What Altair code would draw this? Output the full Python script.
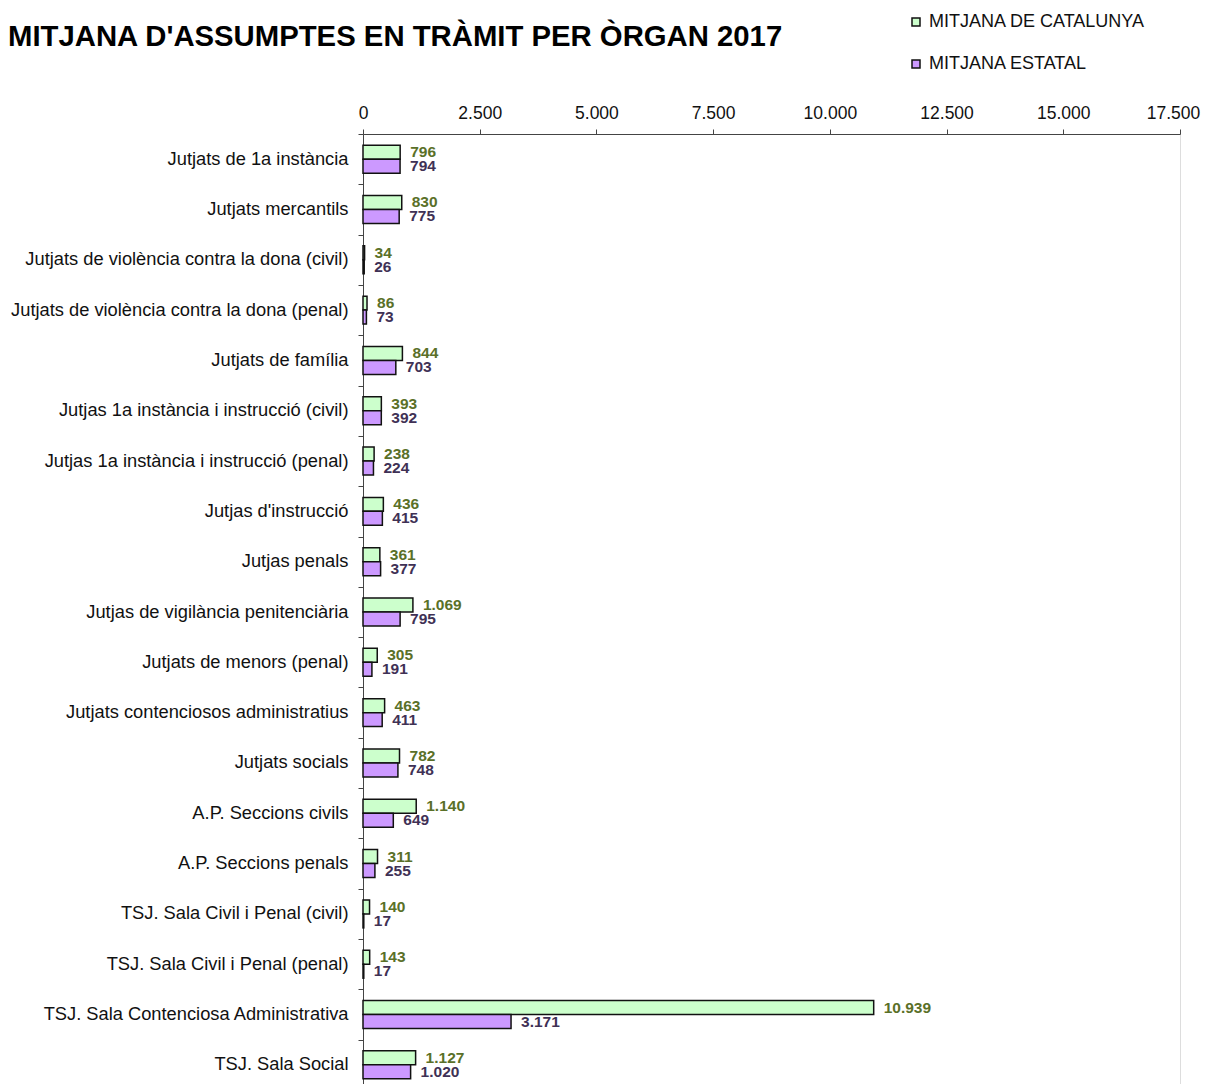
import altair as alt
import pandas as pd

categories = [
    "Jutjats de 1a instància",
    "Jutjats mercantils",
    "Jutjats de violència contra la dona (civil)",
    "Jutjats de violència contra la dona (penal)",
    "Jutjats de família",
    "Jutjas 1a instància  i instrucció  (civil)",
    "Jutjas 1a instància  i instrucció  (penal)",
    "Jutjas d'instrucció",
    "Jutjas penals",
    "Jutjas de vigilància penitenciària",
    "Jutjats de menors (penal)",
    "Jutjats contenciosos administratius",
    "Jutjats socials",
    "A.P. Seccions civils",
    "A.P. Seccions penals",
    "TSJ. Sala Civil i Penal (civil)",
    "TSJ. Sala Civil i Penal (penal)",
    "TSJ. Sala Contenciosa Administrativa",
    "TSJ. Sala Social",
]
catalunya = [796, 830, 34, 86, 844, 393, 238, 436, 361, 1069, 305, 463, 782, 1140, 311, 140, 143, 10939, 1127]
estatal = [794, 775, 26, 73, 703, 392, 224, 415, 377, 795, 191, 411, 748, 649, 255, 17, 17, 3171, 1020]
series = ["MITJANA DE CATALUNYA", "MITJANA ESTATAL"]
x_ticks = [0, 2500, 5000, 7500, 10000, 12500, 15000, 17500]

rows = []
for c, a, b in zip(categories, catalunya, estatal):
    rows.append({"organ": c, "serie": series[0], "valor": a})
    rows.append({"organ": c, "serie": series[1], "valor": b})
df = pd.DataFrame(rows)

FONT = "Liberation Sans"

y_enc = alt.Y(
    "organ:N",
    sort=categories,
    title=None,
    scale=alt.Scale(paddingInner=0, paddingOuter=0),
    axis=alt.Axis(
        orient="left",
        tickBand="extent",
        tickSize=5,
        tickColor="#444",
        domainColor="#444",
        labelFont=FONT,
        labelFontSize=18.3,
        labelColor="#111",
        labelPadding=10,
        labelLimit=500,
    ),
)
x_enc = alt.X(
    "valor:Q",
    title=None,
    scale=alt.Scale(domain=[0, 17500], nice=False),
    axis=alt.Axis(
        orient="top",
        values=x_ticks,
        labelExpr="replace(format(datum.value, ','), ',', '.')",
        labelFlush=False,
        labelOffset={"condition": {"test": "datum.value == 17500", "value": -7}, "value": 0},
        tickSize=5,
        tickColor="#444",
        domainColor="#444",
        labelFont=FONT,
        labelFontSize=17.5,
        labelColor="#111",
        labelPadding=7,
        grid=False,
    ),
)
yoff = alt.YOffset("serie:N", sort=series, scale=alt.Scale(paddingOuter=0.8, paddingInner=0))

base = alt.Chart(df)

bars = base.mark_bar(stroke="#111", strokeWidth=1.5, cornerRadius=0).encode(
    y=y_enc,
    x=x_enc,
    yOffset=yoff,
    fill=alt.Fill(
        "serie:N",
        sort=series,
        scale=alt.Scale(domain=series, range=["#CCFFCC", "#CC99FF"]),
        legend=alt.Legend(
            title=None,
            orient="none",
            legendX=544,
            legendY=-121,
            padding=0,
            symbolType="square",
            symbolSize=64,
            symbolStrokeColor="#111",
            symbolStrokeWidth=1.5,
            labelFont=FONT,
            labelFontSize=18,
            labelColor="#111",
            labelOffset=4,
            labelLimit=400,
            rowPadding=24,
        ),
    ),
)

labels = base.transform_calculate(
    etiqueta="replace(format(datum.valor, ','), ',', '.')"
).mark_text(
    align="left", baseline="middle", dx=10, font=FONT, fontSize=15.5, fontWeight="bold"
).encode(
    y=alt.Y("organ:N", sort=categories),
    x=alt.X("valor:Q"),
    yOffset=alt.YOffset("serie:N", sort=series),
    text="etiqueta:N",
    color=alt.condition(
        alt.datum.serie == series[0], alt.value("#5A7028"), alt.value("#3F3155")
    ),
)

chart = (
    alt.layer(bars, labels)
    .properties(
        width=817,
        height=956,
        autosize=alt.AutoSizeParams(type="none"),
        padding={"left": 355, "top": 126, "right": 23, "bottom": 0},
        title=alt.TitleParams(
            "MITJANA D'ASSUMPTES EN TRÀMIT PER ÒRGAN 2017",
            anchor="start",
            frame="group",
            orient="none",
            dx=-355,
            dy=-88,
            font=FONT,
            fontSize=29.3,
            fontWeight="bold",
            color="#000",
            baseline="alphabetic",
        ),
    )
    .configure_view(stroke="#888", strokeWidth=1)
    .configure(background="white")
)

chart.save("out.html", embed_options={"renderer": "svg", "actions": False})
